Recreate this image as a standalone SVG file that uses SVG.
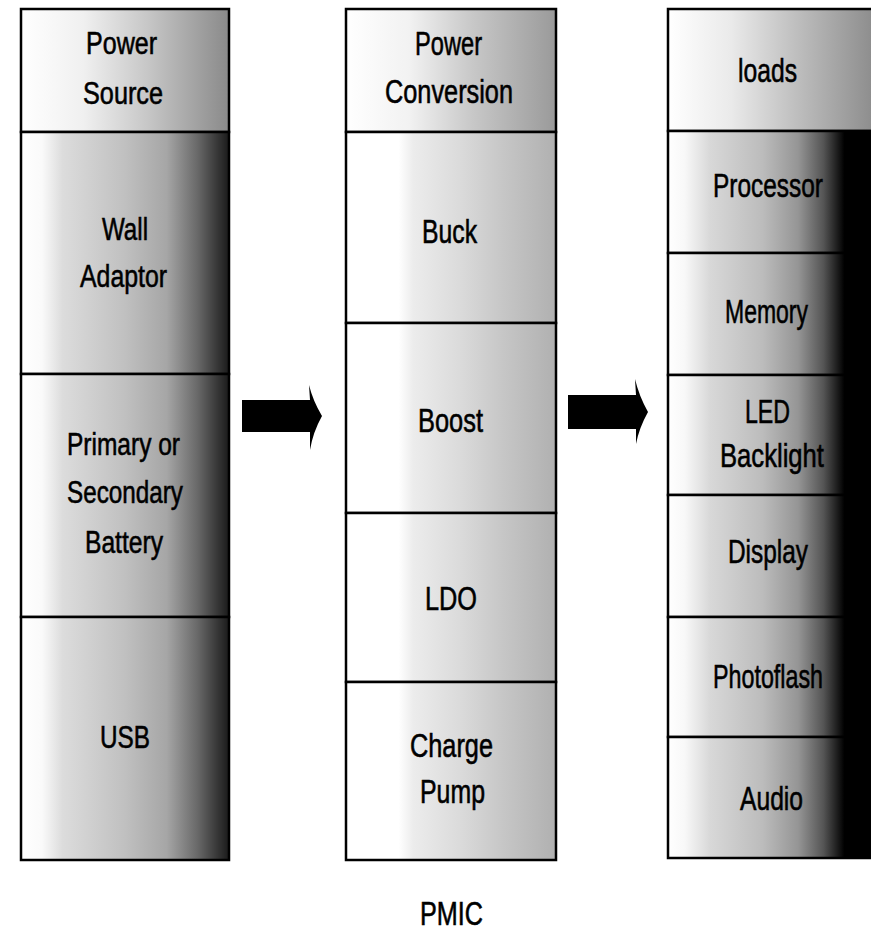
<svg xmlns="http://www.w3.org/2000/svg" width="871" height="931" viewBox="0 0 871 931">
<style>
  .box { stroke: #000; stroke-width: 2.5; }
  .t { font-family: "Liberation Sans", Arial, sans-serif; fill: #000; stroke: #000; stroke-width: 0.6; text-anchor: middle; font-variant-ligatures: none; }
  .l { font-size: 32px; }
  .m { font-size: 34px; }
  .r { font-size: 34px; }
  .arrow { fill: #000; }
</style>
<defs>
  <linearGradient id="gLh" x1="0" y1="0" x2="1" y2="0">
    <stop offset="0" stop-color="#ffffff"/>
    <stop offset="0.3" stop-color="#f0f0f0"/>
    <stop offset="0.6" stop-color="#c8c8c8"/>
    <stop offset="1" stop-color="#8a8a8a"/>
  </linearGradient>
  <linearGradient id="gLb" x1="0" y1="0" x2="1" y2="0">
    <stop offset="0" stop-color="#ffffff"/>
    <stop offset="0.1" stop-color="#fafafa"/>
    <stop offset="0.2" stop-color="#dcdcdc"/>
    <stop offset="0.5" stop-color="#c0c0c0"/>
    <stop offset="0.7" stop-color="#a6a6a6"/>
    <stop offset="0.85" stop-color="#686868"/>
    <stop offset="1" stop-color="#1a1a1a"/>
  </linearGradient>
  <linearGradient id="gMh" x1="0" y1="0" x2="1" y2="0">
    <stop offset="0" stop-color="#ffffff"/>
    <stop offset="0.3" stop-color="#f2f2f2"/>
    <stop offset="0.6" stop-color="#c8c8c8"/>
    <stop offset="1" stop-color="#9a9a9a"/>
  </linearGradient>
  <linearGradient id="gMb" x1="0" y1="0" x2="1" y2="0">
    <stop offset="0" stop-color="#ffffff"/>
    <stop offset="0.25" stop-color="#ffffff"/>
    <stop offset="0.32" stop-color="#ececec"/>
    <stop offset="0.55" stop-color="#dadada"/>
    <stop offset="0.75" stop-color="#c6c6c6"/>
    <stop offset="1" stop-color="#b0b0b0"/>
  </linearGradient>
  <linearGradient id="gRh" x1="0" y1="0" x2="1" y2="0">
    <stop offset="0" stop-color="#ffffff"/>
    <stop offset="0.3" stop-color="#eaeaea"/>
    <stop offset="0.6" stop-color="#c0c0c0"/>
    <stop offset="1" stop-color="#8a8a8a"/>
  </linearGradient>
  <linearGradient id="gRb" x1="0" y1="0" x2="1" y2="0">
    <stop offset="0" stop-color="#ffffff"/>
    <stop offset="0.08" stop-color="#f8f8f8"/>
    <stop offset="0.2" stop-color="#d8d8d8"/>
    <stop offset="0.45" stop-color="#bcbcbc"/>
    <stop offset="0.62" stop-color="#959595"/>
    <stop offset="0.74" stop-color="#555555"/>
    <stop offset="0.84" stop-color="#000000"/>
    <stop offset="1" stop-color="#000000"/>
  </linearGradient>
</defs>

<!-- Left column: Power Source -->
<g id="power-source-header">
  <rect class="box" x="21" y="9" width="208" height="123" fill="url(#gLh)"/>
  <text class="t l" x="121.5" y="54" textLength="71" lengthAdjust="spacingAndGlyphs">Power</text>
  <text class="t l" x="123" y="104" textLength="80" lengthAdjust="spacingAndGlyphs">Source</text>
</g>
<g id="wall-adaptor">
  <rect class="box" x="21" y="132" width="208" height="242" fill="url(#gLb)"/>
  <text class="t l" x="125" y="240" textLength="46" lengthAdjust="spacingAndGlyphs">Wall</text>
  <text class="t l" x="123.5" y="287" textLength="87" lengthAdjust="spacingAndGlyphs">Adaptor</text>
</g>
<g id="battery">
  <rect class="box" x="21" y="374" width="208" height="243" fill="url(#gLb)"/>
  <text class="t l" x="123.5" y="455" textLength="113" lengthAdjust="spacingAndGlyphs">Primary or</text>
  <text class="t l" x="125" y="503" textLength="116" lengthAdjust="spacingAndGlyphs">Secondary</text>
  <text class="t l" x="124" y="553" textLength="78" lengthAdjust="spacingAndGlyphs">Battery</text>
</g>
<g id="usb">
  <rect class="box" x="21" y="617" width="208" height="243" fill="url(#gLb)"/>
  <text class="t l" x="125" y="748" textLength="50" lengthAdjust="spacingAndGlyphs">USB</text>
</g>

<!-- Middle column: Power Conversion (PMIC) -->
<g id="power-conversion-header">
  <rect class="box" x="346" y="9" width="210" height="123" fill="url(#gMh)"/>
  <text class="t m" x="448.5" y="55" textLength="67" lengthAdjust="spacingAndGlyphs">Power</text>
  <text class="t m" x="449" y="103" textLength="128" lengthAdjust="spacingAndGlyphs">Conversion</text>
</g>
<g id="buck">
  <rect class="box" x="346" y="132" width="210" height="191" fill="url(#gMb)"/>
  <text class="t m" x="449.5" y="243" textLength="55" lengthAdjust="spacingAndGlyphs">Buck</text>
</g>
<g id="boost">
  <rect class="box" x="346" y="323" width="210" height="190" fill="url(#gMb)"/>
  <text class="t m" x="450.5" y="432" textLength="65" lengthAdjust="spacingAndGlyphs">Boost</text>
</g>
<g id="ldo">
  <rect class="box" x="346" y="513" width="210" height="169" fill="url(#gMb)"/>
  <text class="t m" x="451" y="610" textLength="52" lengthAdjust="spacingAndGlyphs">LDO</text>
</g>
<g id="charge-pump">
  <rect class="box" x="346" y="682" width="210" height="178" fill="url(#gMb)"/>
  <text class="t m" x="451.5" y="757" textLength="83" lengthAdjust="spacingAndGlyphs">Charge</text>
  <text class="t m" x="452.5" y="803" textLength="65" lengthAdjust="spacingAndGlyphs">Pump</text>
</g>
<g id="pmic-label">
  <text class="t m" x="451.5" y="925" textLength="63" lengthAdjust="spacingAndGlyphs">PMIC</text>
</g>

<!-- Right column: Loads -->
<g id="loads-header">
  <rect class="box" x="668" y="9" width="210" height="122" fill="url(#gRh)"/>
  <text class="t r" x="767.5" y="82" textLength="59" lengthAdjust="spacingAndGlyphs">loads</text>
</g>
<g id="processor">
  <rect class="box" x="668" y="131" width="210" height="122" fill="url(#gRb)"/>
  <text class="t r" x="768" y="197" textLength="110" lengthAdjust="spacingAndGlyphs">Processor</text>
</g>
<g id="memory">
  <rect class="box" x="668" y="253" width="210" height="122" fill="url(#gRb)"/>
  <text class="t r" x="766.5" y="323" textLength="83" lengthAdjust="spacingAndGlyphs">Memory</text>
</g>
<g id="led-backlight">
  <rect class="box" x="668" y="375" width="210" height="120" fill="url(#gRb)"/>
  <text class="t r" x="767.5" y="423" textLength="45" lengthAdjust="spacingAndGlyphs">LED</text>
  <text class="t r" x="772" y="467" textLength="104" lengthAdjust="spacingAndGlyphs">Backlight</text>
</g>
<g id="display">
  <rect class="box" x="668" y="495" width="210" height="122" fill="url(#gRb)"/>
  <text class="t r" x="768" y="563" textLength="80" lengthAdjust="spacingAndGlyphs">Display</text>
</g>
<g id="photoflash">
  <rect class="box" x="668" y="617" width="210" height="120" fill="url(#gRb)"/>
  <text class="t r" x="768" y="688" textLength="110" lengthAdjust="spacingAndGlyphs">Photoflash</text>
</g>
<g id="audio">
  <rect class="box" x="668" y="737" width="210" height="121" fill="url(#gRb)"/>
  <text class="t r" x="771.5" y="810" textLength="63" lengthAdjust="spacingAndGlyphs">Audio</text>
</g>

<!-- Connectors -->
<g id="connectors">
  <path class="arrow" d="M242,400 L310,400 L309,385 Q313,401 322,416 Q313,432 310,450 L310,432 L242,432 Z"/>
  <path class="arrow" d="M568,395 L636,395 L635,379 Q639,396 648,412 Q639,428 636,444 L636,429 L568,429 Z"/>
</g>
</svg>
